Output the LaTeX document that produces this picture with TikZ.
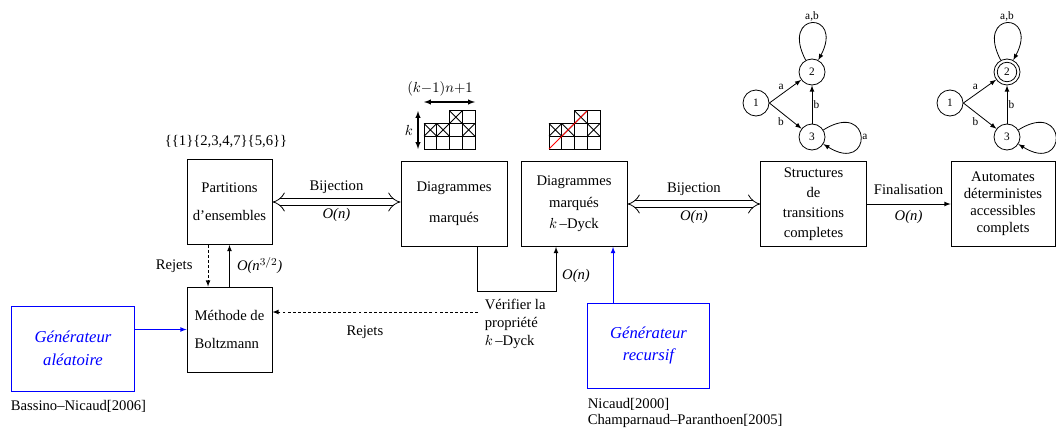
\documentclass[tikz,border=0pt]{standalone}
\usepackage{fontspec}
\setmainfont{Liberation Serif}
\usetikzlibrary{arrows.meta}

\begin{document}
\begin{tikzpicture}[x=0.75pt,y=-0.75pt,line width=0.6pt,>=latex,
  font=\fontsize{11}{13.5}\selectfont,
  bloc/.style={draw, align=center, minimum height=63.75pt},
  gen/.style={draw=blue, text=blue, align=center, minimum width=92pt, minimum height=63.75pt,
    font=\fontsize{12.5}{17}\selectfont\itshape},
  bij/.style={double, double distance=4.5pt, {Implies[length=5pt,width=12pt]}-{Implies[length=5pt,width=12pt]}},
  rejet/.style={dash pattern=on 2.2pt off 1.6pt},
  etat/.style={draw, circle, inner sep=0pt, minimum size=19.5pt, font=\fontsize{8.5}{10}\selectfont},
  lbl/.style={font=\fontsize{8.5}{10}\selectfont, inner sep=1pt}]
\useasboundingbox (0,0) rectangle (1056,428);

% boxes
\node[bloc, minimum width=63.75pt] (part) at (229.5,202) {Partitions\\[7.5pt]d'ensembles};
\node[bloc, minimum width=79.5pt] (diag) at (454,204) {Diagrammes\\[9.5pt]marqués};
\node[bloc, minimum width=79.5pt] (dyck) at (574,204) {Diagrammes\\[2.5pt]marqués\\[2.5pt]$k$\,--Dyck};
\node[bloc, minimum width=79pt] (struct) at (813.5,204) {Structures\\[1.5pt]de\\[1.5pt]transitions\\[1.5pt]completes};
\node[bloc, minimum width=78pt] (auto) at (1003,204) {Automates\\[-0.7pt]déterministes\\[-0.7pt]accessibles\\[-0.7pt]complets};
\node[bloc, minimum width=63.75pt, align=left] (boltz) at (229.5,329.5) {Méthode de\\[7.5pt]Boltzmann};
\node[gen] (gena) at (73,348.5) {Générateur\\aléatoire};
\node[gen] (genr) at (648.5,345.5) {Générateur\\recursif};

% texts
\node (setp) at (226,142) {\{\{1\}\{2,3,4,7\}\{5,6\}\}};
\node[anchor=west] (cita) at (6,406) {Bassino--Nicaud[2006]};
\node[anchor=west] (citr) at (583,404) {Nicaud[2000]};
\node[anchor=west] (citc) at (583,421) {Champarnaud--Paranthoen[2005]};
\node[anchor=north west, align=left] (verif) at (480,294) {Vérifier la\\propriété\\$k$\,--Dyck};
\coordinate (rej) at (478,312);
\coordinate (vchk) at (477,291);
\coordinate (vup) at (556,291);

% connectors
\draw[bij] (part.east) -- (part.east -| diag.west) node[midway, above=3pt] {Bijection} node[midway, below=1pt] {\textit{O(n)}};
\draw[bij] (dyck.east) -- (struct.west) node[midway, above=3pt] {Bijection} node[midway, below=1pt] {\textit{O(n)}};
\draw[->] (struct.east) -- (auto.west) node[midway, above=3.4pt] {Finalisation} node[midway, below=1pt] {\textit{O(n)}};
\draw[->, rejet] ([xshift=-16.1pt]part.south) -- ([xshift=-16.1pt]boltz.north) node[midway, left=8pt] {Rejets};
\draw[->] (boltz.north) -- (part.south) node[midway, right=2pt] {\textit{O(n$^{3/2}$)}};
\draw[->, blue] (gena.east |- boltz.west) -- (boltz.west);
\draw[->, rejet] (rej) -- (boltz.east |- rej) node[pos=.55, below=7pt] {Rejets};
\draw[->] (diag.south -| vchk) -- (vchk) -- (vup) -- (dyck.south -| vup) node[pos=.35, right=1pt] {\textit{O(n)}};
\draw[->, blue] ([xshift=-26.6pt]genr.north) -- ([xshift=-26.6pt]genr.north |- dyck.south);

% marked diagrams
\foreach \ox in {424,549} {
  \foreach \c/\r in {0/0,1/0,2/0,3/0,0/1,1/1,2/1,3/1,2/2,3/2}
    \draw[shift={(\ox,149)}, line width=0.75pt] (\c*12.75,-\r*12.75) rectangle ++(12.75,-12.75);
  \foreach \c/\r in {0/1,1/1,3/1,2/2} % crossed cells
    \draw[shift={(\ox,149)}] (\c*12.75,-\r*12.75) -- ++(12.75,-12.75) (\c*12.75,-\r*12.75-12.75) -- ++(12.75,12.75);
}
\draw[red] (549,149) -- ++(38.25,-38.25);
\draw[latex-latex, line width=0.8pt] (418,111) -- (418,149) node[midway, left] {$k$};
\draw[latex-latex, line width=0.8pt] (424,102) -- (475,102);
\node (dimk) at (440,89) {$(k{-}1)n{+}1$};

% automaton (transitions)
\node[etat] (a1) at (756,103) {1};
\node[etat] (a2) at (812,72) {2};
\node[etat] (a3) at (812,137) {3};
\draw[->] (a1.east) -- (a2) node[lbl, midway, above left] {a};
\draw[->] (a1.east) -- (a3) node[lbl, midway, below left] {b};
\draw[->] (a3) -- (a2) node[lbl, midway, right] {b};
\draw[->] (a2) to[out=118, in=62, distance=42pt] node[lbl, above] {a,b} (a2);
\draw[->] (a3) to[out=32, in=-32, distance=44pt] node[lbl, right] {a} (a3);

% automaton (final)
\node[etat] (b1) at (950,103) {1};
\node[etat] (b2) at (1007,72) {2};
\node[etat] (b3) at (1007,137) {3};
\draw (b2.center) circle[radius=7.3pt];
\draw[->] (b1.east) -- (b2) node[lbl, midway, above left] {a};
\draw[->] (b1.east) -- (b3) node[lbl, midway, below left] {b};
\draw[->] (b3) -- (b2) node[lbl, midway, right] {b};
\draw[->] (b2) to[out=118, in=62, distance=42pt] node[lbl, above] {a,b} (b2);
\draw[->] (b3) to[out=32, in=-32, distance=44pt] (b3);
\end{tikzpicture}
\end{document}
